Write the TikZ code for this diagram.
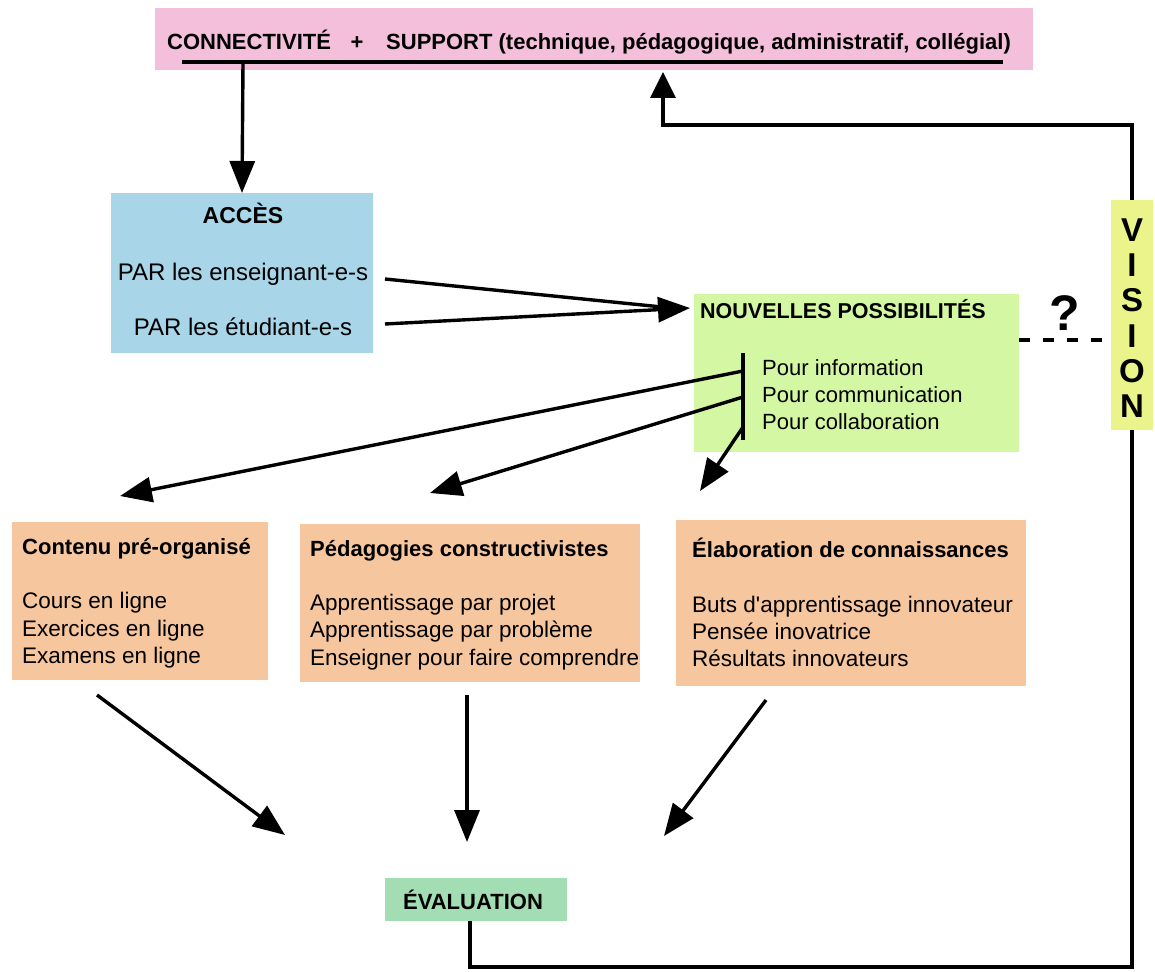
\documentclass[tikz,border=0pt]{standalone}
\usepackage{fontspec}
\setmainfont{Liberation Sans}
\usetikzlibrary{arrows.meta}
\definecolor{pinkc}{HTML}{F4BFDB}
\definecolor{bluec}{HTML}{A8D6E8}
\definecolor{greenc}{HTML}{D4F7A4}
\definecolor{yellowc}{HTML}{EBF48A}
\definecolor{orangec}{HTML}{F6C69E}
\definecolor{evalc}{HTML}{A3DDB4}
\tikzset{
  boxs/.style={inner sep=0pt, outer sep=0pt, draw=none},
  conn/.style={line width=3.4pt},
  arr/.style={conn, -{Triangle[length=32pt,width=25pt]}},
  fbline/.style={line width=3.2pt},
  fbarr/.style={fbline, -{Triangle[length=26pt,width=25pt]}},
  body/.style={font=\fontsize{22.5}{27}\selectfont, inner sep=0pt, anchor=base west},
  accl/.style={font=\fontsize{24}{28}\selectfont, inner sep=0pt, anchor=base},
  ttl/.style={font=\bfseries\fontsize{22}{26}\selectfont, inner sep=0pt, anchor=base west},
}
\begin{document}
\begin{tikzpicture}[x=1pt,y=-1pt]
\useasboundingbox (0,0) rectangle (1155,971);
% top box
\node[boxs, fill=pinkc, minimum width=878pt, minimum height=62pt] (top) at (594,39) {};
\node[ttl] (c1) at (167,50) {CONNECTIVITÉ};
\node[ttl, anchor=base] (plus) at (357,50) {+};
\node[ttl] (c2) at (386,50) {SUPPORT (technique, pédagogique, administratif, collégial)};
\coordinate (ul1) at (182,62);
\coordinate (ul2) at (1003,62);
\draw[conn] (ul1) -- (ul2);
\coordinate (u) at (243,62);
\coordinate (fb) at (663,72);
% acces
\node[boxs, fill=bluec, minimum width=262pt, minimum height=160pt] (acces) at (242,273) {};
\node[ttl, anchor=base, font=\bfseries\fontsize{23}{28}\selectfont] (acct) at (243,223) {ACCÈS};
\node[accl] (ens) at (243,280) {PAR les enseignant-e-s};
\node[accl] (etu) at (243,335) {PAR les étudiant-e-s};
\draw[arr] (u) -- (acces.north);
% nouvelles possibilites
\node[boxs, fill=greenc, minimum width=325pt, minimum height=158pt] (np) at (856.5,373) {};
\node[ttl, font=\bfseries\fontsize{21.5}{26}\selectfont] (npt) at (700,318) {NOUVELLES POSSIBILITÉS};
\node[body, font=\fontsize{22}{26}\selectfont] (p1) at (762,375) {Pour information};
\node[body, font=\fontsize{22}{26}\selectfont] (p2) at (762,402) {Pour communication};
\node[body, font=\fontsize{22}{26}\selectfont] (p3) at (762,429) {Pour collaboration};
\coordinate (bt) at (743,353);
\coordinate (bb) at (743,440);
\draw[conn] (bt) -- (bb);
\coordinate (e1) at (385,279);
\coordinate (e2) at (385,324);
\coordinate (nptip) at (690,308);
\coordinate (npin) at (672,308);
\draw[conn] (e1) -- (npin);
\draw[arr] (e2) -- (nptip);
% vision
\node[boxs, fill=yellowc, minimum width=42pt, minimum height=230pt] (vision) at (1132,315) {};
\node[inner sep=0pt, align=center, font=\bfseries\fontsize{33}{35.3}\selectfont] (vt) at (1132,318) {V\\I\\S\\I\\O\\N};
\coordinate (d1) at (1019,340);
\coordinate (d2) at (1111,340);
\draw[fbline, dash pattern=on 11pt off 13pt] (d1) -- (d2);
\node[inner sep=0pt, font=\bfseries\fontsize{50}{54}\selectfont] (q) at (1065,313) {?};
% branches to the three boxes
\coordinate (s1) at (743,371);
\coordinate (s2) at (743,397);
\coordinate (s3) at (743,427);
\coordinate (t1) at (120,496);
\coordinate (t2) at (430,493);
\coordinate (t3) at (700,491);
\draw[arr] (s1) -- (t1);
\draw[arr] (s2) -- (t2);
\draw[arr] (s3) -- (t3);
% orange boxes
\node[boxs, fill=orangec, minimum width=256pt, minimum height=158pt] (o1) at (140,601) {};
\node[ttl] (o1t) at (22,554) {Contenu pré-organisé};
\node[body] (o1a) at (22,608) {Cours en ligne};
\node[body] (o1b) at (22,636) {Exercices en ligne};
\node[body] (o1c) at (22,663) {Examens en ligne};
\node[boxs, fill=orangec, minimum width=340pt, minimum height=158pt] (o2) at (470,603) {};
\node[ttl] (o2t) at (310,556) {Pédagogies constructivistes};
\node[body] (o2a) at (310,610) {Apprentissage par projet};
\node[body] (o2b) at (310,637) {Apprentissage par problème};
\node[body] (o2c) at (310,665) {Enseigner pour faire comprendre};
\node[boxs, fill=orangec, minimum width=350pt, minimum height=166pt] (o3) at (851,603) {};
\node[ttl] (o3t) at (692,557) {Élaboration de connaissances};
\node[body] (o3a) at (692,612) {Buts d\textquotesingle apprentissage innovateur};
\node[body] (o3b) at (692,639) {Pensée inovatrice};
\node[body] (o3c) at (692,666) {Résultats innovateurs};
% evaluation
\node[boxs, fill=evalc, minimum width=182pt, minimum height=43pt] (ev) at (476,899.5) {};
\node[ttl, anchor=base] (evt) at (473,909) {ÉVALUATION};
\coordinate (a1) at (97,695);
\coordinate (a2) at (467,695);
\coordinate (a3) at (766,700);
\coordinate (b1) at (285,835);
\coordinate (b2) at (467,842);
\coordinate (b3) at (664,836);
\draw[arr] (a1) -- (b1);
\draw[arr] (a2) -- (b2);
\draw[arr] (a3) -- (b3);
% feedback loop
\coordinate (evb) at (470,921);
\draw[fbarr] (vision.north) -- (1132,125) -- (663,125) -- (fb);
\draw[fbline] (vision.south) -- (1132,967) -- (470,967) -- (evb);
\end{tikzpicture}
\end{document}
